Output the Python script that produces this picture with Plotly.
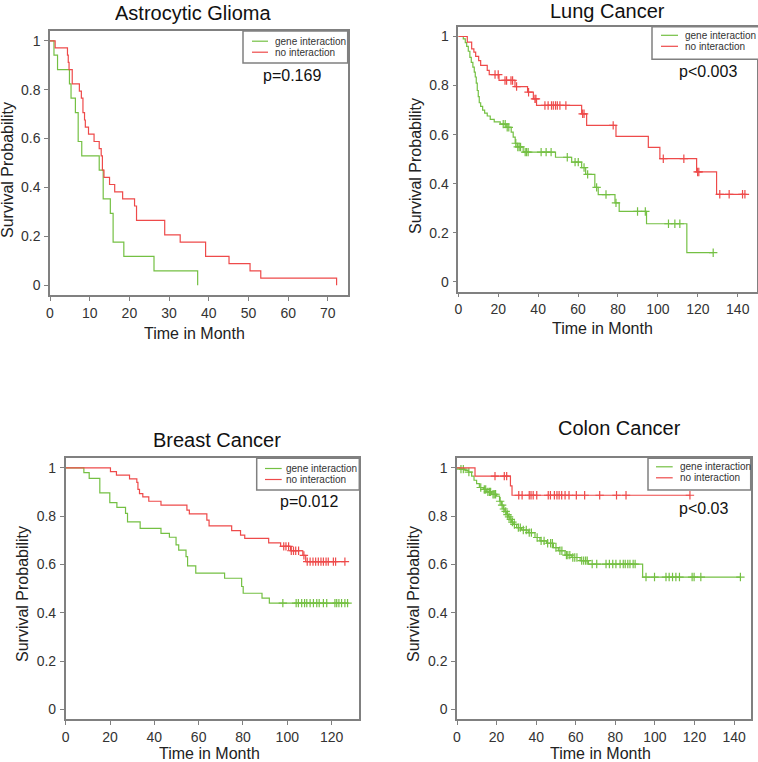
import numpy as np
import plotly.graph_objects as go

W, H = 758, 762

# ---------------- data ----------------
panel_titles = ["Astrocytic Glioma", "Lung Cancer", "Breast Cancer", "Colon Cancer"]
p_values = ["p=0.169", "p<0.003", "p=0.012", "p<0.03"]
legend_labels = ["gene interaction", "no interaction"]
x_label = "Time in Month"
y_label = "Survival Probability"
y_tick_vals = [0, 0.2, 0.4, 0.6, 0.8, 1]
y_tick_text = ["0", "0.2", "0.4", "0.6", "0.8", "1"]
x_tick_vals = [
    [0, 10, 20, 30, 40, 50, 60, 70],
    [0, 20, 40, 60, 80, 100, 120, 140],
    [0, 20, 40, 60, 80, 100, 120],
    [0, 20, 40, 60, 80, 100, 120, 140],
]

# Astrocytic Glioma
glioma_gene_t = [1.0, 1.9, 4.9, 5.3, 6.4, 7.1, 8.0, 12.4, 13.4, 15.2, 15.9, 18.6, 26.2, 37.2]
glioma_gene_s = [0.941, 0.882, 0.824, 0.765, 0.706, 0.588, 0.529, 0.471, 0.353, 0.294, 0.176, 0.118, 0.059, 0.0]
glioma_gene_c = []
glioma_no_t = [1.3, 4.4, 4.6, 4.8, 5.6, 7.4, 7.9, 8.3, 8.7, 8.9, 9.7, 11.1, 12.4, 12.9, 13.2, 13.6,
               15.0, 16.3, 18.3, 21.3, 21.8, 28.9, 32.8, 39.2, 45.1, 50.4, 53.1, 72.2]
glioma_no_s = [0.971, 0.941, 0.912, 0.882, 0.824, 0.794, 0.765, 0.706, 0.676, 0.647, 0.618, 0.588, 0.559,
               0.529, 0.471, 0.441, 0.412, 0.382, 0.353, 0.324, 0.265, 0.206, 0.176, 0.118, 0.088, 0.059,
               0.029, 0.0]
glioma_no_c = []

# Lung Cancer
lung_gene_t = [2.5, 3.5, 4.2, 5.0, 5.8, 6.5, 7.3, 8.0, 8.5, 9.0, 9.5, 10.0, 10.5, 11.2, 12.2, 13.2, 14.5,
               16.0, 18.0, 21.0, 24.0, 26.5, 27.5, 28.5, 29.5, 32.5, 48.7, 56.8, 61.8, 63.8, 68.4, 70.1,
               78.5, 80.6, 94.3, 114.5]
lung_gene_s = [0.99, 0.975, 0.96, 0.94, 0.915, 0.895, 0.875, 0.855, 0.835, 0.81, 0.78, 0.755, 0.73, 0.715,
               0.70, 0.688, 0.676, 0.662, 0.652, 0.643, 0.63, 0.61, 0.59, 0.565, 0.55, 0.529, 0.508, 0.488,
               0.466, 0.438, 0.385, 0.356, 0.322, 0.287, 0.237, 0.119]
lung_gene_c = [22.5, 23.5, 24.5, 25.3, 28.8, 29.8, 30.5, 31.2, 33.5, 34.2, 35.0, 41.5, 44.0, 46.5, 54.6,
               58.5, 60.1, 63.0, 64.8, 69.3, 74.0, 79.0, 89.8, 93.7, 105.3, 108.5, 111.0, 127.7]
lung_no_t = [4.5, 6.7, 7.8, 8.7, 10.2, 11.2, 14.5, 15.5, 20.4, 28.4, 34.7, 37.6, 39.2, 61.8, 64.3, 79.0,
             95.2, 101.0, 119.4, 129.4]
lung_no_s = [0.977, 0.95, 0.936, 0.919, 0.902, 0.882, 0.862, 0.845, 0.821, 0.796, 0.773, 0.746, 0.719,
             0.685, 0.638, 0.593, 0.548, 0.502, 0.448, 0.357]
lung_no_c = [18.4, 20.0, 23.4, 24.2, 26.4, 27.2, 29.2, 35.2, 38.4, 38.9, 43.4, 45.0, 46.7, 47.6, 48.7,
             49.6, 50.9, 53.9, 62.3, 63.0, 77.6, 102.7, 113.0, 119.9, 120.5, 131.0, 135.7, 142.4, 143.6]

# Breast Cancer
breast_gene_t = [8.2, 10.6, 15.4, 19.9, 23.1, 27.0, 27.9, 33.6, 43.0, 46.8, 49.8, 51.0, 54.3, 55.0, 58.7,
                 71.7, 79.4, 80.1, 88.6, 91.9]
breast_gene_s = [0.981, 0.957, 0.897, 0.856, 0.837, 0.812, 0.777, 0.750, 0.729, 0.713, 0.681, 0.660, 0.633,
                 0.594, 0.564, 0.543, 0.509, 0.481, 0.461, 0.440]
breast_gene_c = [98.0, 104.0, 105.0, 106.5, 107.8, 108.8, 110.3, 111.8, 113.3, 114.4, 116.3, 117.8, 121.5,
                 122.3, 123.3, 124.5, 126.0, 127.2]
breast_no_t = [20.2, 22.9, 28.8, 32.1, 32.6, 33.3, 34.8, 37.5, 43.0, 54.7, 55.8, 63.7, 64.7, 74.9, 78.9,
               80.8, 91.6, 97.0, 101.5, 107.0, 108.3]
breast_no_s = [0.985, 0.970, 0.955, 0.940, 0.911, 0.894, 0.880, 0.862, 0.846, 0.825, 0.810, 0.784, 0.760,
               0.740, 0.722, 0.708, 0.690, 0.675, 0.657, 0.638, 0.612]
breast_no_c = [98.4, 99.4, 100.6, 101.8, 102.8, 103.8, 105.1, 107.5, 109.0, 110.3, 111.6, 112.8, 114.0,
               115.2, 116.3, 117.5, 118.5, 120.8, 121.8, 126.0]

# Colon Cancer
colon_gene_t = [1.5, 4.0, 5.7, 7.4, 8.6, 9.9, 11.3, 13.3, 15.0, 17.5, 20.0, 21.5, 22.5, 23.4, 24.2, 25.1,
                26.0, 26.7, 27.5, 28.4, 30.1, 32.6, 36.0, 39.4, 41.9, 45.3, 48.7, 51.2, 54.6, 58.0, 62.2,
                66.4, 93.8]
colon_gene_s = [0.995, 0.99, 0.983, 0.966, 0.949, 0.935, 0.919, 0.911, 0.901, 0.891, 0.883, 0.862, 0.846,
                0.830, 0.820, 0.807, 0.797, 0.787, 0.776, 0.766, 0.753, 0.743, 0.732, 0.712, 0.698, 0.688,
                0.670, 0.657, 0.639, 0.629, 0.616, 0.602, 0.548]
colon_gene_c = [2.0, 3.2, 6.0, 12.0, 13.8, 14.5, 15.6, 16.4, 17.0, 18.2, 18.8, 19.5, 21.8, 22.8, 23.7, 24.6,
                25.5, 26.3, 27.2, 28.0, 29.0, 31.0, 32.0, 33.5, 35.0, 36.5, 37.6, 40.5, 42.5, 44.0, 45.8,
                47.3, 48.2, 50.0, 52.0, 53.0, 55.3, 56.0, 57.0, 58.5, 59.5, 60.6, 63.0, 64.0, 65.0, 65.8,
                68.3, 70.6, 75.3, 77.0, 78.7, 80.3, 82.4, 84.0, 85.0, 86.3, 87.4, 89.0, 90.0, 95.5, 99.8,
                105.6, 107.2, 108.9, 110.6, 112.4, 118.8, 119.8, 123.2, 143.2]
colon_no_t = [9.1, 27.0, 27.8]
colon_no_s = [0.966, 0.926, 0.887]
colon_no_c = [19.2, 23.9, 25.1, 31.2, 32.9, 36.5, 37.4, 38.5, 40.3, 46.1, 47.2, 49.2, 50.5, 51.6, 52.9,
              54.6, 56.6, 60.3, 64.5, 72.1, 80.6, 85.4, 117.7]

panels_data = [
    ((glioma_gene_t, glioma_gene_s, glioma_gene_c), (glioma_no_t, glioma_no_s, glioma_no_c)),
    ((lung_gene_t, lung_gene_s, lung_gene_c), (lung_no_t, lung_no_s, lung_no_c)),
    ((breast_gene_t, breast_gene_s, breast_gene_c), (breast_no_t, breast_no_s, breast_no_c)),
    ((colon_gene_t, colon_gene_s, colon_gene_c), (colon_no_t, colon_no_s, colon_no_c)),
]

# ---------------- layout geometry (pixels) ----------------
GREEN = "#74c043"
RED = "#ee4a4a"
FONT = "Liberation Sans, Arial, sans-serif"
AXIS_COL = "#808080"

# plot boxes: left, right, top, bottom (px) and x-range max
boxes = [
    (50.0, 347.7, 31.0, 295.0, 75.0),
    (458.3, 756.7, 26.7, 291.7, 149.5),
    (65.7, 359.3, 458.3, 719.0, 132.5),
    (457.0, 750.7, 458.3, 719.0, 148.4),
]
title_pos = [(193, 13), (607, 11), (217, 440), (619, 428)]
xlab_pos = [(194, 333), (602, 328), (209, 753), (600, 753)]
ylab_pos = [(7, 170), (415, 166), (22, 594), (413, 594)]
pval_pos = [(292, 76), (708, 71), (309, 501), (703, 508)]
# legend: box left, right, top, bottom, line x0, x1, text x, row1 y, row2 y
legends = [
    (243, 347.7, 31.0, 63.0, 252, 268, 273, 41.2, 52.2),
    (652, 760, 26.7, 59.3, 661, 678, 683, 35.3, 46.3),
    (256.7, 359.3, 458.3, 490.0, 265, 281.7, 284, 468.5, 479.5),
    (648, 750.7, 458.3, 490.0, 656, 672.7, 677.7, 466.8, 477.8),
]


def px(x):
    return x / W


def py(y):
    return 1 - y / H


def step_xy(t, s, c):
    x = [0.0] + list(t)
    y = [1.0] + list(s)
    end = max(c) if c else 0
    if end > x[-1]:
        x.append(end)
        y.append(y[-1])
    return x, y


def censor_y(t, s, c):
    t = np.asarray(t)
    s = np.asarray(s)
    out = []
    for ci in c:
        idx = np.searchsorted(t, ci, side="right") - 1
        out.append(1.0 if idx < 0 else float(s[idx]))
    return out


fig = go.Figure()
annotations = []
shapes = []

for i, (gene, noint) in enumerate(panels_data):
    xa = "x" if i == 0 else f"x{i+1}"
    ya = "y" if i == 0 else f"y{i+1}"
    for (t, s, c), col, name in [(gene, GREEN, legend_labels[0]), (noint, RED, legend_labels[1])]:
        sx, sy = step_xy(t, s, c)
        fig.add_trace(go.Scatter(x=sx, y=sy, mode="lines", line=dict(color=col, width=1.2, shape="hv"),
                                 name=name, showlegend=False, xaxis=xa, yaxis=ya, hoverinfo="skip"))
        if c:
            fig.add_trace(go.Scatter(x=c, y=censor_y(t, s, c), mode="markers",
                                     marker=dict(symbol="cross-thin", size=6, color=col,
                                                 line=dict(color=col, width=1.2)),
                                     showlegend=False, xaxis=xa, yaxis=ya, hoverinfo="skip",
                                     cliponaxis=False))

    l, r, tp, b, xmax = boxes[i]
    axis_common = dict(showline=True, mirror=True, linecolor=AXIS_COL, linewidth=1.5,
                       ticks="outside", ticklen=4, tickwidth=1, tickcolor=AXIS_COL,
                       showgrid=False, zeroline=False, automargin=False,
                       tickfont=dict(family=FONT, size=14, color="#333333"))
    xkey = "xaxis" if i == 0 else f"xaxis{i+1}"
    ykey = "yaxis" if i == 0 else f"yaxis{i+1}"
    fig.update_layout(**{
        xkey: dict(domain=[px(l), px(r)], range=[0, xmax], anchor=ya, tickvals=x_tick_vals[i],
                   ticklabelstandoff=0, **axis_common),
        ykey: dict(domain=[py(b), py(tp)], range=[-0.04, 1.04], anchor=xa, tickvals=y_tick_vals,
                   ticktext=y_tick_text, ticklabelstandoff=1, **axis_common),
    })

    # titles and labels
    tx, ty = title_pos[i]
    annotations.append(dict(x=px(tx), y=py(ty), xref="paper", yref="paper", text=panel_titles[i],
                            showarrow=False, xanchor="center", yanchor="middle", height=22,
                            font=dict(family=FONT, size=20, color="#111111")))
    lx, ly = xlab_pos[i]
    annotations.append(dict(x=px(lx), y=py(ly), xref="paper", yref="paper", text=x_label,
                            showarrow=False, xanchor="center", yanchor="middle", height=17,
                            font=dict(family=FONT, size=16, color="#222222")))
    yx, yy = ylab_pos[i]
    annotations.append(dict(x=px(yx), y=py(yy), xref="paper", yref="paper", text=y_label,
                            showarrow=False, xanchor="center", yanchor="middle", textangle=-90,
                            font=dict(family=FONT, size=16, color="#222222")))
    pxx, pyy = pval_pos[i]
    annotations.append(dict(x=px(pxx), y=py(pyy), xref="paper", yref="paper", text=p_values[i],
                            showarrow=False, xanchor="center", yanchor="middle",
                            font=dict(family=FONT, size=16, color="#111111")))

    # legend box
    bl, br, bt, bb, lx0, lx1, ltx, r1, r2 = legends[i]
    shapes.append(dict(type="rect", xref="paper", yref="paper", x0=px(bl), x1=px(br), y0=py(bb), y1=py(bt),
                       line=dict(color=AXIS_COL, width=1.5), fillcolor="white", layer="above"))
    for ry, col, lab in [(r1, GREEN, legend_labels[0]), (r2, RED, legend_labels[1])]:
        shapes.append(dict(type="line", xref="paper", yref="paper", x0=px(lx0), x1=px(lx1), y0=py(ry), y1=py(ry),
                           line=dict(color=col, width=1.2), layer="above"))
        annotations.append(dict(x=px(ltx), y=py(ry), xref="paper", yref="paper", text=lab, showarrow=False,
                                xanchor="left", yanchor="middle", height=11,
                                font=dict(family=FONT, size=10, color="#333333")))

fig.update_layout(width=W, height=H, margin=dict(l=0, r=0, t=0, b=0), paper_bgcolor="white",
                  plot_bgcolor="white", showlegend=False, annotations=annotations, shapes=shapes)

# remove the browser's default page margin so the figure sits at the window's top-left corner
fig.write_html("out.html", config={"displayModeBar": False},
               post_script="document.body.style.margin='0';document.body.style.overflow='hidden';")
